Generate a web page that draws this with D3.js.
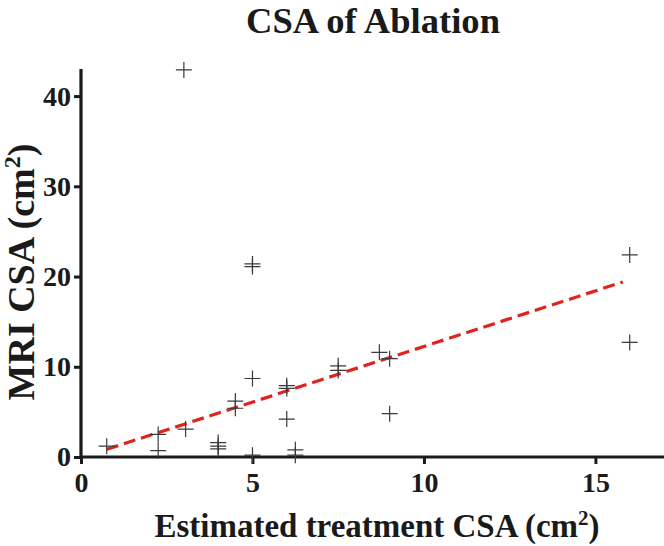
<!DOCTYPE html>
<html><head><meta charset="utf-8">
<script src="https://cdn.jsdelivr.net/npm/d3@7"></script>
<style>
html,body{margin:0;padding:0;background:#fff;}
svg{display:block;}
text{font-family:"Liberation Serif","Times New Roman",Times,serif;font-weight:bold;fill:#1a1a1a;}
</style></head>
<body><svg id="chart" width="664" height="546"></svg>
<script>
// Data
const estimatedCSA = [0.75, 2.25, 2.25, 3.0, 3.05, 4.0, 4.0, 4.0, 4.5, 4.5, 5.0, 5.0, 5.0, 5.0, 6.0, 6.0, 6.0, 6.25, 6.25, 7.5, 7.5, 8.7, 9.0, 9.0, 16.0, 16.0];
const mriCSA       = [1.2, 2.5, 0.7, 42.9, 3.1, 1.6, 1.2, 0.9, 6.2, 5.4, 21.4, 21.1, 8.7, 0.2, 7.9, 7.6, 4.2, 0.8, 0.2, 10.1, 9.6, 11.6, 10.9, 4.8, 22.4, 12.7];
const fitX = [0.75, 15.8];
const fitY = [0.85, 19.4];
const xTicks = [0, 5, 10, 15];
const yTicks = [0, 10, 20, 30, 40];
const xDomain = [0, 17];
const yDomain = [0, 43];

const svg = d3.select("#chart");
const x = d3.scaleLinear().domain(xDomain).range([81, 664]);
const y = d3.scaleLinear().domain(yDomain).range([457, 69]);

// Axes
const xAxis = svg.append("g").attr("transform", `translate(0,${y(0)})`)
  .call(d3.axisBottom(x).tickValues(xTicks).tickSize(7).tickPadding(8).tickFormat(d3.format("d")));
const yAxis = svg.append("g").attr("transform", `translate(${x(0)},0)`)
  .call(d3.axisLeft(y).tickValues(yTicks).tickSize(7).tickPadding(3).tickFormat(d3.format("d")));
[xAxis, yAxis].forEach(g => {
  g.select(".domain").attr("stroke", "#1a1a1a").attr("stroke-width", 3.2);
  g.selectAll(".tick line").attr("stroke", "#1a1a1a").attr("stroke-width", 3);
  g.selectAll(".tick text").style("font-size", "28px").style("font-family", '"Liberation Serif",Times,serif')
    .style("font-weight", "bold").attr("fill", "#1a1a1a");
});
xAxis.select(".domain").attr("d", `M${x(0)},0H${x(xDomain[1])}`);
yAxis.select(".domain").attr("d", `M0,${y(0)}V${y(yDomain[1])}`);

// Fit line
svg.append("path")
  .datum(fitX.map((v, i) => [v, fitY[i]]))
  .attr("d", d3.line().x(d => x(d[0])).y(d => y(d[1])))
  .attr("fill", "none").attr("stroke", "#e0231f").attr("stroke-width", 3.2)
  .attr("stroke-dasharray", "12,6");

// Points as crosses
const half = 8;
const pts = svg.append("g");
estimatedCSA.forEach((v, i) => {
  const cx = x(v), cy = y(mriCSA[i]);
  pts.append("path")
    .attr("d", `M${cx - half},${cy}H${cx + half}M${cx},${cy - half}V${cy + half}`)
    .attr("stroke", "#3a3a3a").attr("stroke-width", 1.2).attr("fill", "none");
});

// Title
svg.append("text").attr("x", 373).attr("y", 33).attr("text-anchor", "middle")
  .attr("textLength", 254).attr("lengthAdjust", "spacingAndGlyphs")
  .style("font-size", "36px").text("CSA of Ablation");

// X label
const xl = svg.append("text").attr("x", 377).attr("y", 537).attr("text-anchor", "middle")
  .style("font-size", "33px");
xl.append("tspan").text("Estimated treatment CSA (cm");
xl.append("tspan").attr("dy", -12).style("font-size", "21px").text("2");
xl.append("tspan").attr("dy", 12).text(")");

// Y label
const yl = svg.append("text").attr("transform", "translate(34,272) rotate(-90)")
  .attr("text-anchor", "middle").style("font-size", "38px");
yl.append("tspan").text("MRI CSA (cm");
yl.append("tspan").attr("dy", -14).style("font-size", "24px").text("2");
yl.append("tspan").attr("dy", 14).text(")");
</script></body></html>
